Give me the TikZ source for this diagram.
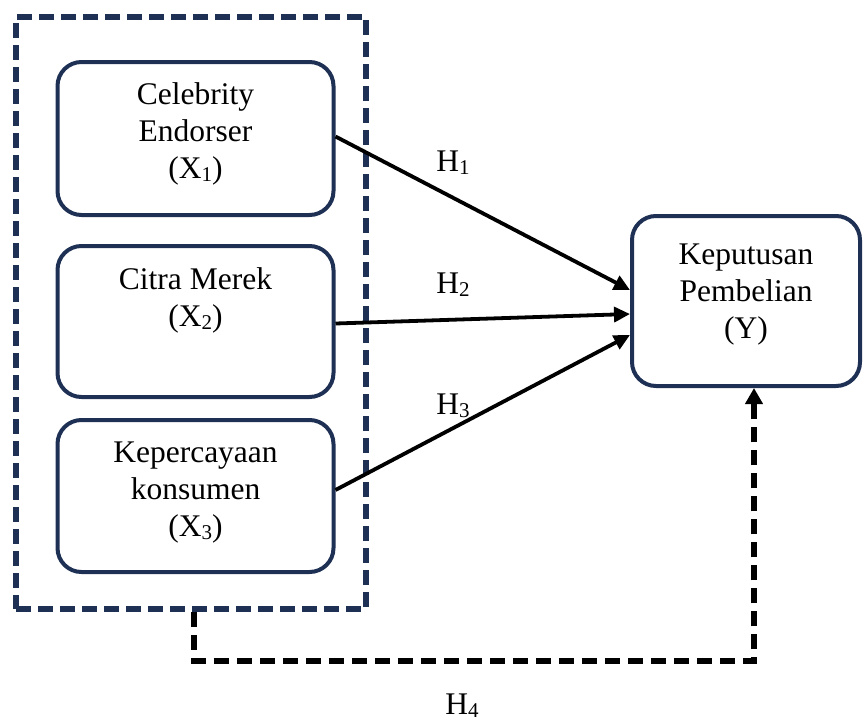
\documentclass[tikz,border=0pt]{standalone}
\usepackage{fontspec}
\setmainfont{Liberation Serif}
\usetikzlibrary{arrows.meta}
\definecolor{navy}{RGB}{30,48,84}
\newcommand{\sbs}[1]{\raisebox{-3pt}{\fontsize{21}{21}\selectfont #1}}
\begin{document}
\begin{tikzpicture}[x=1pt,y=-1pt,
  varbox/.style={draw=navy, line width=4pt, rounded corners=24pt, minimum width=276pt, inner sep=0pt},
  lbl/.style={align=center, font=\fontsize{31.5}{37}\selectfont, anchor=north, inner sep=0pt},
  harrow/.style={line width=3.8pt, -{Triangle[length=16pt,width=15pt]}},
  hlbl/.style={font=\fontsize{31.5}{37}\selectfont, anchor=base, inner sep=0pt},
  grpbox/.style={draw=navy, line width=5.5pt, dash pattern=on 15pt off 7pt, minimum width=350pt, minimum height=592pt, inner sep=0pt},
  hfour/.style={draw=black, line width=5.5pt, dash pattern=on 15pt off 8pt, -{Triangle[length=16pt,width=17pt]}}]
\useasboundingbox (0,0) rectangle (864,723);
% group
\node[grpbox] (grp) at (191,313) {};
% boxes
\node[varbox, minimum height=153pt] (x1) at (195.5,138.5) {};
\node[varbox, minimum height=151pt] (x2) at (195.5,321.5) {};
\node[varbox, minimum height=152pt] (x3) at (195.5,496) {};
\node[varbox, minimum width=228pt, minimum height=170pt] (y) at (746,301) {};
% labels
\node[lbl] (t1) at (195.5,82) {Celebrity\\Endorser\\(X\sbs{1})};
\node[lbl] (t2) at (195.5,267) {Citra Merek\\(X\sbs{2})};
\node[lbl] (t3) at (195.5,442) {Kepercayaan\\konsumen\\(X\sbs{3})};
\node[lbl] (ty) at (746,244) {Keputusan\\Pembelian\\(Y)};
% arrows
\draw[harrow] ([yshift=2pt]x1.east) -- ([yshift=11pt]y.west);
\draw[harrow] ([yshift=-2pt]x2.east) -- ([yshift=-13pt]y.west);
\draw[harrow] ([yshift=6pt]x3.east) -- ([yshift=-34pt]y.west);
\node[hlbl] (h1) at (453,171) {H\sbs{1}};
\node[hlbl] (h2) at (453,293) {H\sbs{2}};
\node[hlbl] (h3) at (453,414) {H\sbs{3}};
\node[hlbl] (h4) at (462,714) {H\sbs{4}};
% H4 path
\coordinate (c1) at (194,661);
\coordinate (c2) at (754,661);
\draw[hfour] (grp.south -| c1) -- (c1) -- (c2) -- (c2 |- y.south);
\end{tikzpicture}
\end{document}
